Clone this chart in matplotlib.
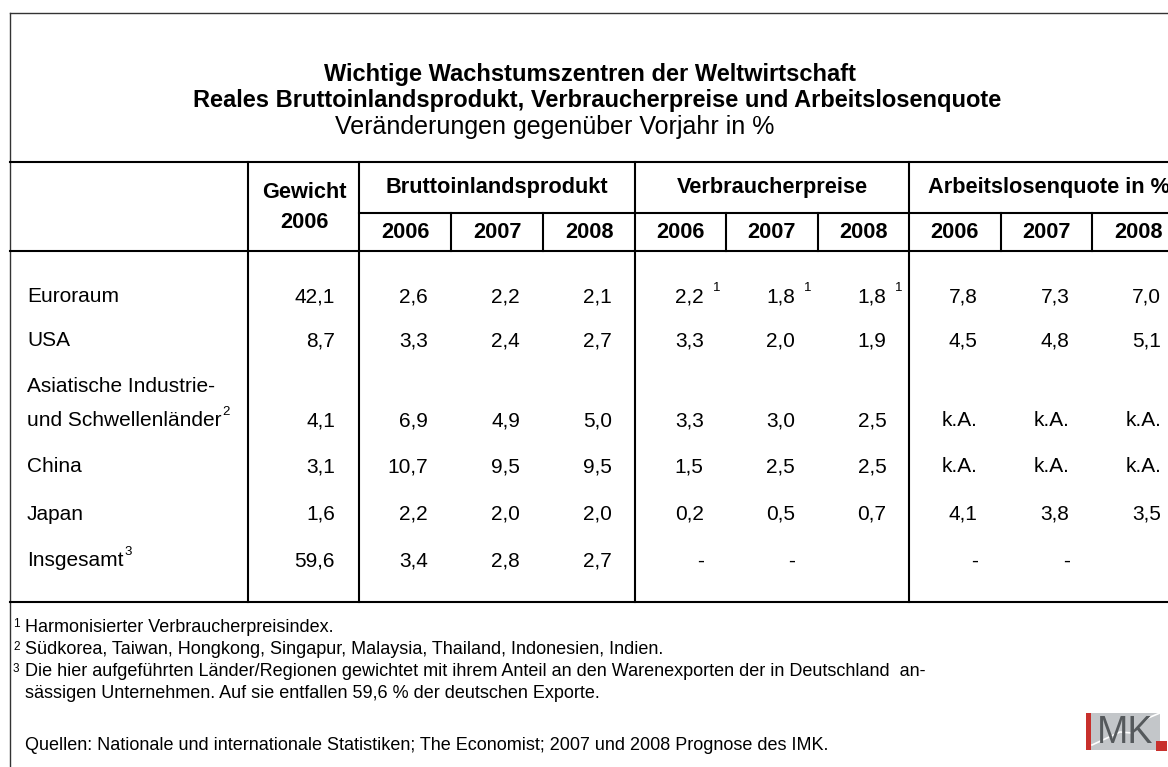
import numpy as np
import matplotlib.pyplot as plt

plt.rcParams['font.family'] = ['Liberation Sans', 'DejaVu Sans']

# Daten
laender = ["Euroraum", "USA", "Asiatische Industrie-\nund Schwellenländer", "China", "Japan", "Insgesamt"]
laender_fn = ["", "", "2", "", "", "3"]
gewicht = [42.1, 8.7, 4.1, 3.1, 1.6, 59.6]
jahre = ["2006", "2007", "2008"]
bip = [[2.6, 2.2, 2.1], [3.3, 2.4, 2.7], [6.9, 4.9, 5.0],
       [10.7, 9.5, 9.5], [2.2, 2.0, 2.0], [3.4, 2.8, 2.7]]
vpi = [[2.2, 1.8, 1.8], [3.3, 2.0, 1.9], [3.3, 3.0, 2.5],
       [1.5, 2.5, 2.5], [0.2, 0.5, 0.7], ["-", "-", None]]
vpi_fn = ["1", "", "", "", "", ""]
alq = [[7.8, 7.3, 7.0], [4.5, 4.8, 5.1], ["k.A.", "k.A.", "k.A."],
       ["k.A.", "k.A.", "k.A."], [4.1, 3.8, 3.5], ["-", "-", None]]
gruppen = ["Bruttoinlandsprodukt", "Verbraucherpreise", "Arbeitslosenquote in %"]

titel = ["Wichtige Wachstumszentren der Weltwirtschaft",
         "Reales Bruttoinlandsprodukt, Verbraucherpreise und Arbeitslosenquote"]
untertitel = "Veränderungen gegenüber Vorjahr in %"
fussnoten = [("1", "Harmonisierter Verbraucherpreisindex."),
             ("2", "Südkorea, Taiwan, Hongkong, Singapur, Malaysia, Thailand, Indonesien, Indien."),
             ("3", "Die hier aufgeführten Länder/Regionen gewichtet mit ihrem Anteil an den Warenexporten der in Deutschland  an-"),
             ("", "sässigen Unternehmen. Auf sie entfallen 59,6 % der deutschen Exporte.")]
quelle = "Quellen: Nationale und internationale Statistiken; The Economist; 2007 und 2008 Prognose des IMK."


def fmt(v):
    if v is None:
        return ""
    if isinstance(v, str):
        return v
    return f"{v:.1f}".replace(".", ",")


W, H = 1168, 767
fig = plt.figure(figsize=(W / 100, H / 100), dpi=100)
ax = fig.add_axes([0, 0, 1, 1])
ax.set_xlim(0, W)
ax.set_ylim(H, 0)
ax.axis("off")
rend = fig.canvas.get_renderer()

# Rahmen
ax.plot([10, 10], [H, 13], color="#333333", lw=1.0)
ax.plot([10, W], [13, 13], color="#333333", lw=1.0)

lw = 1.5
x_lab, x_gew, x_bip, x_vpi, x_alq = 248, 359, 635, 909, 1184
y_top, y_mid, y_head, y_bot = 162, 213, 251, 602
ax.plot([10, W], [y_top, y_top], color="black", lw=lw)
ax.plot([x_gew, W], [y_mid, y_mid], color="black", lw=lw)
ax.plot([10, W], [y_head, y_head], color="black", lw=lw)
ax.plot([10, W], [y_bot, y_bot], color="black", lw=lw)
for x in [x_lab, x_gew, x_bip, x_vpi]:
    ax.plot([x, x], [y_top, y_bot], color="black", lw=lw)

grenzen = [x_gew, x_bip, x_vpi, x_alq]
sub_x = []
for g in range(3):
    a, b = grenzen[g], grenzen[g + 1]
    w = (b - a) / 3
    for k in range(1, 3):
        ax.plot([a + k * w, a + k * w], [y_mid, y_head], color="black", lw=lw)
    sub_x.append([a + (k + 0.5) * w for k in range(3)])

# Titel
ax.text(590, 75, titel[0], ha="center", va="center", fontsize=17, fontweight="bold")
ax.text(597, 100, titel[1], ha="center", va="center", fontsize=17, fontweight="bold")
ax.text(555, 127, untertitel, ha="center", va="center", fontsize=18)

# Kopfzeilen
fh = 15.7
ax.text(304, 193, "Gewicht", ha="center", va="center", fontsize=fh, fontweight="bold")
ax.text(304, 222, "2006", ha="center", va="center", fontsize=fh, fontweight="bold")
ax.text((x_gew + x_bip) / 2, 188, gruppen[0], ha="center", va="center", fontsize=fh, fontweight="bold")
ax.text((x_bip + x_vpi) / 2, 188, gruppen[1], ha="center", va="center", fontsize=fh, fontweight="bold")
ax.text(928, 188, gruppen[2], ha="left", va="center", fontsize=fh, fontweight="bold")
for g in range(3):
    for k, j in enumerate(jahre):
        ax.text(sub_x[g][k], 233, j, ha="center", va="center", fontsize=fh, fontweight="bold")

# Datenzeilen
fs = 15
zeilen_y = [297, 341, 421, 467, 514, 561]
for i, name in enumerate(laender):
    y = zeilen_y[i]
    if "\n" in name:
        z1, z2 = name.split("\n")
        ax.text(27, y - 34, z1, ha="left", va="center", fontsize=fs)
        t = ax.text(27, y, z2, ha="left", va="center", fontsize=fs)
    else:
        t = ax.text(27, y, name, ha="left", va="center", fontsize=fs)
    if laender_fn[i]:
        r = t.get_window_extent(renderer=rend)
        ax.text(27 + r.width + 1, y - 9, laender_fn[i], ha="left", va="center", fontsize=9.5)
    ax.text(335, y, fmt(gewicht[i]), ha="right", va="center", fontsize=fs)
    for g, werte in enumerate([bip, vpi, alq]):
        for k in range(3):
            xr = sub_x[g][k] + 23
            ax.text(xr, y, fmt(werte[i][k]), ha="right", va="center", fontsize=fs)
            if g == 1 and vpi_fn[i]:
                ax.text(xr + 9, y - 9, vpi_fn[i], ha="left", va="center", fontsize=9.5)

# Fussnoten
ff = 13
fn_y = [627, 650, 672, 694]
for (nr, txt), y in zip(fussnoten, fn_y):
    if nr:
        ax.text(13, y - 3, nr, ha="left", va="center", fontsize=8.5)
    ax.text(25, y, txt, ha="left", va="center", fontsize=ff)
ax.text(25, 745, quelle, ha="left", va="center", fontsize=ff)

# IMK-Logo
ax.fill([1086, 1160, 1160, 1086], [713, 713, 750, 750], color="#c3c6c9", lw=0)
ax.plot([1092, 1120, 1132, 1148, 1160], [745, 732, 733, 718, 713], color="white", lw=1.2)
ax.fill([1086, 1091, 1091, 1086], [713, 713, 750, 750], color="#c8302c", lw=0)
ax.text(1125, 733, "MK", ha="center", va="center", fontsize=27, color="#55595c")
ax.fill([1156, 1167, 1167, 1156], [741, 741, 751, 751], color="#c8302c", lw=0)

fig.savefig("out.png", dpi=100)
